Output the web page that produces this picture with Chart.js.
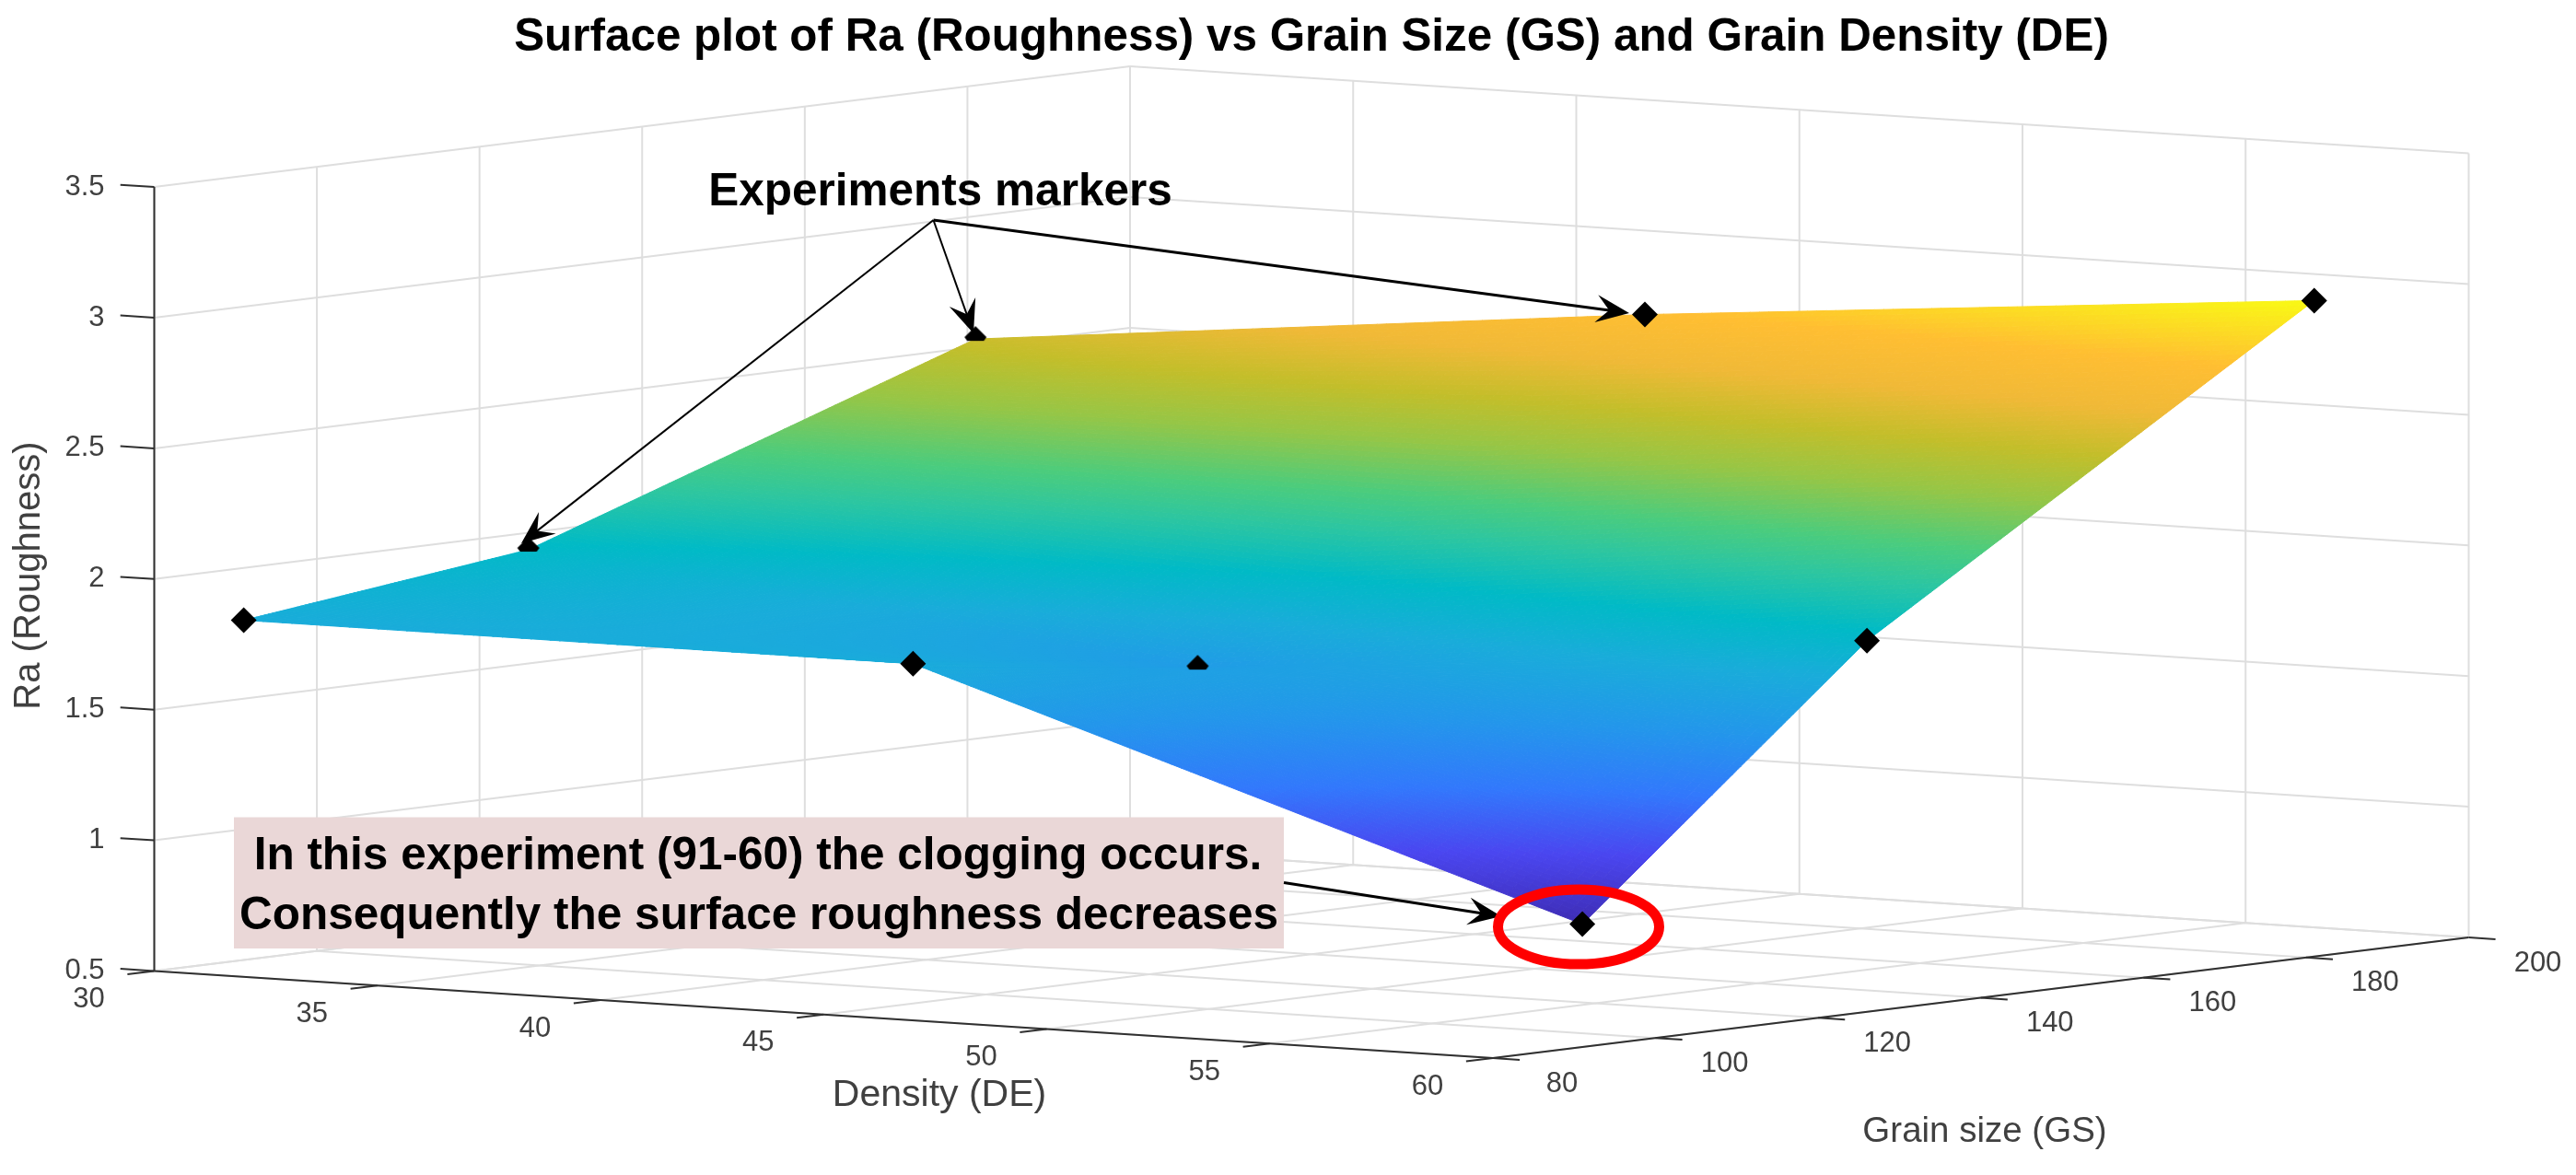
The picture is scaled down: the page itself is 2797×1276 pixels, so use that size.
<!DOCTYPE html>
<html lang="en">
<head>
  <meta charset="UTF-8" />
  <title>Surface plot of Ra</title>
  <style>
    html, body { margin: 0; background: #fff; }
    canvas { display: block; }
  </style>
</head>
<body>
  <canvas id="chart" width="2797" height="1276"></canvas>

  <script src="https://cdn.jsdelivr.net/npm/chart.js"></script>
  <script>
    // experiments
    const grainSizes = [91, 126, 181];
    const densities = [30, 45, 60];
    const raAtDensity30 = [1.80, 1.935, 2.53];
    const raAtDensity45 = [1.80, 1.65, 2.79];
    const raAtDensity60 = [0.97, 1.92, 3.01];
    const raRows = [raAtDensity30, raAtDensity45, raAtDensity60];

    // ticks
    const densityTicks = [30, 35, 40, 45, 50, 55, 60];
    const grainTicks = [80, 100, 120, 140, 160, 180, 200];
    const raTicks = [0.5, 1, 1.5, 2, 2.5, 3, 3.5];
    const raTickLabels = ['0.5', '1', '1.5', '2', '2.5', '3', '3.5'];

    // these markers sink partly into the surface
    const sunkMarkers = [[0, 1], [0, 2], [1, 1]]; // [density index, grain index]

    const chartTitle = 'Surface plot of Ra (Roughness) vs Grain Size (GS) and Grain Density (DE)';

    // orthographic view: where the (DE 30, GS 80, Ra 0.5) corner lands and what each axis adds
    const ORIGIN = { x: 167.5, y: 1054.5 };
    const DE_VEC = { x: 1453.5, y: 94.5 };  // DE 30 -> 60
    const GS_VEC = { x: 1059.5, y: -131 };  // GS 80 -> 200
    const RA_PER_UNIT = 283.8;

    function project(de, gs, ra) {
      const a = (de - 30) / 30, b = (gs - 80) / 120;
      return {
        x: ORIGIN.x + a * DE_VEC.x + b * GS_VEC.x,
        y: ORIGIN.y + a * DE_VEC.y + b * GS_VEC.y - (ra - 0.5) * RA_PER_UNIT
      };
    }

    // colour against Ra, matched to the bands in the picture
    const colorStops = [
      [0.97, 62, 44, 180], [1.2, 74, 70, 240], [1.4, 50, 120, 252], [1.6, 35, 150, 235],
      [1.8, 25, 172, 218], [1.95, 0, 186, 198], [2.1, 45, 198, 160], [2.21, 75, 204, 125],
      [2.37, 150, 198, 70], [2.51, 195, 190, 42], [2.65, 240, 185, 55], [2.8, 255, 190, 50],
      [3.01, 249, 250, 20]
    ];

    function raColor(ra) {
      let i = 0;
      while (i < colorStops.length - 2 && ra > colorStops[i + 1][0]) i++;
      const a = colorStops[i], b = colorStops[i + 1];
      const f = Math.max(0, Math.min(1, (ra - a[0]) / (b[0] - a[0])));
      const mix = k => Math.round(a[k] + (b[k] - a[k]) * f);
      return `rgb(${mix(1)},${mix(2)},${mix(3)})`;
    }

    const lineSet = (points, color, width, order) => ({
      type: 'scatter', showLine: true, data: points, borderColor: color, borderWidth: width,
      pointRadius: 0, order: order, clip: false
    });

    const GRID = '#dedede', AXIS = '#303030';
    const datasets = [];

    function gridLine(p, q) { datasets.push(lineSet([p, q], GRID, 2, 6)); }

    // walls and floor
    grainTicks.forEach(g => {
      gridLine(project(30, g, 0.5), project(30, g, 3.5));
      gridLine(project(30, g, 0.5), project(60, g, 0.5));
    });
    densityTicks.forEach(d => {
      gridLine(project(d, 200, 0.5), project(d, 200, 3.5));
      gridLine(project(d, 80, 0.5), project(d, 200, 0.5));
    });
    raTicks.forEach(r => {
      gridLine(project(30, 80, r), project(30, 200, r));
      gridLine(project(30, 200, r), project(60, 200, r));
    });

    // axes and tick marks
    datasets.push(lineSet([project(30, 80, 0.5), project(30, 80, 3.5)], AXIS, 2, 5));
    datasets.push(lineSet([project(30, 80, 0.5), project(60, 80, 0.5)], AXIS, 2, 5));
    datasets.push(lineSet([project(60, 80, 0.5), project(60, 200, 0.5)], AXIS, 2, 5));
    raTicks.forEach(r => datasets.push(lineSet([project(30, 80, r), project(29.24, 80, r)], AXIS, 2, 5)));
    densityTicks.forEach(d => datasets.push(lineSet([project(d, 80, 0.5), project(d, 76.7, 0.5)], AXIS, 2, 5)));
    grainTicks.forEach(g => datasets.push(lineSet([project(60, g, 0.5), project(60.6, g, 0.5)], AXIS, 2, 5)));

    const isSunk = (i, j) => sunkMarkers.some(m => m[0] === i && m[1] === j);
    const fullPoints = [], sunkPoints = [], surfacePoints = [];
    densities.forEach((d, i) => grainSizes.forEach((g, j) => {
      const p = project(d, g, raRows[i][j]);
      surfacePoints.push(p);
      (isSunk(i, j) ? sunkPoints : fullPoints).push(p);
    }));

    // top of a diamond, the rest is under the surface
    const sunkGlyph = document.createElement('canvas');
    sunkGlyph.width = 30; sunkGlyph.height = 30;
    {
      const g = sunkGlyph.getContext('2d');
      g.translate(15, 15);
      g.fillStyle = '#000';
      g.beginPath();
      g.moveTo(0, -14); g.lineTo(12, -2); g.lineTo(9, 2); g.lineTo(-9, 2); g.lineTo(-12, -2);
      g.closePath();
      g.fill();
    }

    datasets.push({ label: 'surface', type: 'scatter', data: surfacePoints, pointRadius: 0, order: 4, clip: false });
    datasets.push({ type: 'scatter', data: sunkPoints, pointStyle: sunkGlyph, pointRadius: 14, order: 2, clip: false });
    datasets.push({ type: 'scatter', data: fullPoints, pointStyle: 'rectRot', pointRadius: 14, borderWidth: 0, backgroundColor: '#000', order: 1, clip: false });

    const surfacePlugin = {
      id: 'surface',
      afterDatasetDraw(chart, args) {
        if (chart.data.datasets[args.index].label !== 'surface') return;
        const { ctx, scales: { x, y } } = chart;
        const N = 70;
        const pix = (de, gs, ra) => {
          const p = project(de, gs, ra);
          return [x.getPixelForValue(p.x), y.getPixelForValue(p.y)];
        };
        ctx.save();
        ctx.lineWidth = 1;
        for (let i = 0; i < densities.length - 1; i++) {
          for (let j = 0; j < grainSizes.length - 1; j++) {
            const d0 = densities[i], d1 = densities[i + 1], g0 = grainSizes[j], g1 = grainSizes[j + 1];
            const ra00 = raRows[i][j], ra01 = raRows[i][j + 1], ra10 = raRows[i + 1][j], ra11 = raRows[i + 1][j + 1];
            const at = (u, v) => {
              const ra = ra00 * (1 - u) * (1 - v) + ra01 * (1 - u) * v + ra10 * u * (1 - v) + ra11 * u * v;
              return { ra, p: pix(d0 + (d1 - d0) * u, g0 + (g1 - g0) * v, ra) };
            };
            for (let a = 0; a < N; a++) {
              for (let b = 0; b < N; b++) {
                const q = [at(a / N, b / N), at((a + 1) / N, b / N), at((a + 1) / N, (b + 1) / N), at(a / N, (b + 1) / N)];
                const color = raColor(at((a + 0.5) / N, (b + 0.5) / N).ra);
                ctx.fillStyle = color;
                ctx.strokeStyle = color;
                ctx.beginPath();
                q.forEach((c, k) => k ? ctx.lineTo(c.p[0], c.p[1]) : ctx.moveTo(c.p[0], c.p[1]));
                ctx.closePath();
                ctx.fill();
                ctx.stroke();
              }
            }
          }
        }
        ctx.restore();
      }
    };

    function drawArrow(ctx, fx, fy, tx, ty, width) {
      const a = Math.atan2(ty - fy, tx - fx);
      const rot = (l, s) => [tx + l * Math.cos(a) - s * Math.sin(a), ty + l * Math.sin(a) + s * Math.cos(a)];
      ctx.strokeStyle = '#000';
      ctx.lineWidth = width;
      ctx.beginPath();
      ctx.moveTo(fx, fy);
      ctx.lineTo(...rot(-20, 0));
      ctx.stroke();
      ctx.fillStyle = '#000';
      ctx.beginPath();
      ctx.moveTo(tx, ty);
      ctx.lineTo(...rot(-36, 15));
      ctx.lineTo(...rot(-22, 0));
      ctx.lineTo(...rot(-36, -15));
      ctx.closePath();
      ctx.fill();
    }

    const labelPlugin = {
      id: 'labels',
      afterDatasetsDraw(chart) {
        const { ctx, scales: { x, y } } = chart;
        const px = v => x.getPixelForValue(v), py = v => y.getPixelForValue(v);

        function text(str, vx, vy, font, color, align) {
          ctx.font = font;
          ctx.fillStyle = color;
          ctx.textAlign = align || 'center';
          ctx.textBaseline = 'middle';
          ctx.fillText(str, px(vx), py(vy));
        }

        ctx.save();
        const TICK_FONT = '31px "Liberation Sans"', BOLD = 'bold 49.5px "Liberation Sans"';
        const GRAY = '#404040';

        raTicks.forEach((r, i) => {
          const p = project(30, 80, r);
          text(raTickLabels[i], p.x - 54, p.y, TICK_FONT, GRAY, 'right');
        });
        densityTicks.forEach(d => {
          const p = project(d, 80, 0.5);
          text(String(d), p.x - 71, p.y + 31, TICK_FONT, GRAY);
        });
        grainTicks.forEach(g => {
          const p = project(60, g, 0.5);
          text(String(g), p.x + 75, p.y + 28, TICK_FONT, GRAY);
        });

        text('Density (DE)', 1020, 1190, '41px "Liberation Sans"', GRAY);
        text('Grain size (GS)', 2155, 1229, '38.5px "Liberation Sans"', GRAY);
        ctx.save();
        ctx.translate(px(32), py(625));
        ctx.rotate(-Math.PI / 2);
        ctx.font = '40px "Liberation Sans"';
        ctx.fillStyle = GRAY;
        ctx.textAlign = 'center';
        ctx.textBaseline = 'middle';
        ctx.fillText('Ra (Roughness)', 0, 0);
        ctx.restore();

        // annotations
        text('Experiments markers', 1021, 209, BOLD, '#000');
        drawArrow(ctx, px(1013.5), py(239), px(566), py(590), 2);
        drawArrow(ctx, px(1013.5), py(239), px(1057), py(362), 2);
        drawArrow(ctx, px(1013.5), py(239), px(1769), py(340), 3);

        ctx.fillStyle = '#ead7d7';
        ctx.fillRect(px(254), py(887.5), 1140, 142.5);
        text('In this experiment (91-60) the clogging occurs.', 823, 930, BOLD, '#000');
        text('Consequently the surface roughness decreases', 824, 995, BOLD, '#000');
        drawArrow(ctx, px(1394), py(958.5), px(1630), py(995), 3);

        ctx.strokeStyle = '#ff0000';
        ctx.lineWidth = 11;
        ctx.beginPath();
        ctx.ellipse(px(1714), py(1006.5), 87.5, 40.5, 0, 0, 2 * Math.PI);
        ctx.stroke();
        ctx.restore();
      }
    };

    // title block takes the top of the canvas, the scales carry on in picture coordinates below it
    const TITLE_SIZE = 49.4, TITLE_TOP = 12, LEFT_GAP = 51;
    const titleBlock = TITLE_SIZE * 1.2 + TITLE_TOP;

    new Chart(document.getElementById('chart').getContext('2d'), {
      type: 'scatter',
      data: { datasets },
      plugins: [surfacePlugin, labelPlugin],
      options: {
        responsive: false,
        animation: false,
        devicePixelRatio: 1,
        layout: { autoPadding: false, padding: { left: LEFT_GAP, right: 0, top: 0, bottom: 0 } },
        scales: {
          x: { type: 'linear', display: false, min: LEFT_GAP, max: 2797 },
          y: { type: 'linear', display: false, min: titleBlock, max: 1276, reverse: true }
        },
        plugins: {
          legend: { display: false },
          tooltip: { enabled: false },
          title: {
            display: true,
            text: chartTitle,
            fullSize: false,
            color: '#000',
            font: { family: '"Liberation Sans"', size: TITLE_SIZE, weight: 'bold', lineHeight: 1.2 },
            padding: { top: TITLE_TOP, bottom: 0 }
          }
        }
      }
    });
  </script>
</body>
</html>
